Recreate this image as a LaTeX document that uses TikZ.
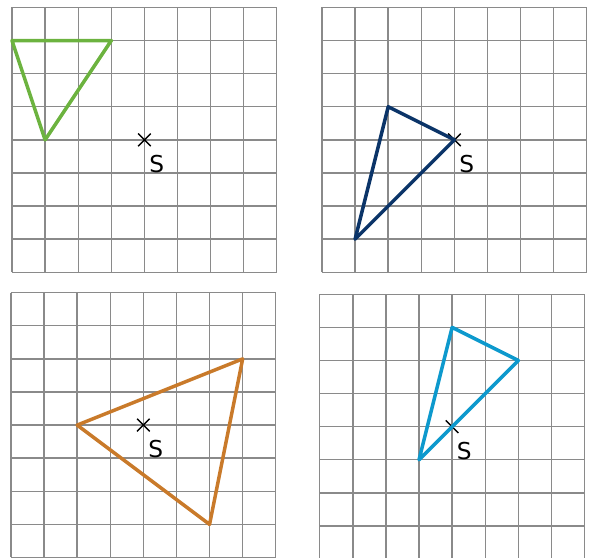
\documentclass[tikz,border=0pt]{standalone}
\usepackage{fontspec}
\setmainfont{DejaVu Sans}
\definecolor{gridgray}{HTML}{8A8A8A}
\definecolor{tgreen}{HTML}{6CB33F}
\definecolor{tnavy}{HTML}{0B3468}
\definecolor{torange}{HTML}{C97A2A}
\definecolor{tblue}{HTML}{0D99CD}
\newcommand{\sqgrid}{%
  \foreach \i in {0,...,8} {
    \draw[gridline] (\i,0) -- (\i,-8);
    \draw[gridline] (0,-\i) -- (8,-\i);
  }%
  \draw[crossmark] (4,-4) +(-0.19,-0.19) -- +(0.19,0.19) +(-0.19,0.19) -- +(0.19,-0.19);}
\begin{document}
\begin{tikzpicture}[x=0.5cm,y=0.5cm,
  gridline/.style={gridgray,line width=0.6pt},
  tri/.style={line width=1.5pt,line join=round},
  crossmark/.style={black,line width=0.6pt},
  slabel/.style={font=\fontsize{10}{12}\selectfont,inner sep=0pt}]
\useasboundingbox (0,0) rectangle (17.946,16.858);
% top left
\begin{scope}[shift={(0.3625,16.632)}]
\sqgrid
\draw[tri,tgreen] (0,-1) -- (3,-1) -- (1,-4) -- cycle;
\node[slabel] (s1) at (4.37,-4.73) {S};
\end{scope}
% top right
\begin{scope}[shift={(9.728,16.632)}]
\sqgrid
\draw[tri,tnavy] (4,-4) -- (2,-3) -- (1,-7) -- cycle;
\node[slabel] (s2) at (4.37,-4.73) {S};
\end{scope}
% bottom left
\begin{scope}[shift={(0.332,8.015)}]
\sqgrid
\draw[tri,torange] (2,-4) -- (7,-2) -- (6,-7) -- cycle;
\node[slabel] (s3) at (4.37,-4.73) {S};
\end{scope}
% bottom right
\begin{scope}[shift={(9.659,7.967)}]
\sqgrid
\draw[tri,tblue] (4,-1) -- (6,-2) -- (3,-5) -- cycle;
\node[slabel] (s4) at (4.37,-4.73) {S};
\end{scope}
\end{tikzpicture}
\end{document}
